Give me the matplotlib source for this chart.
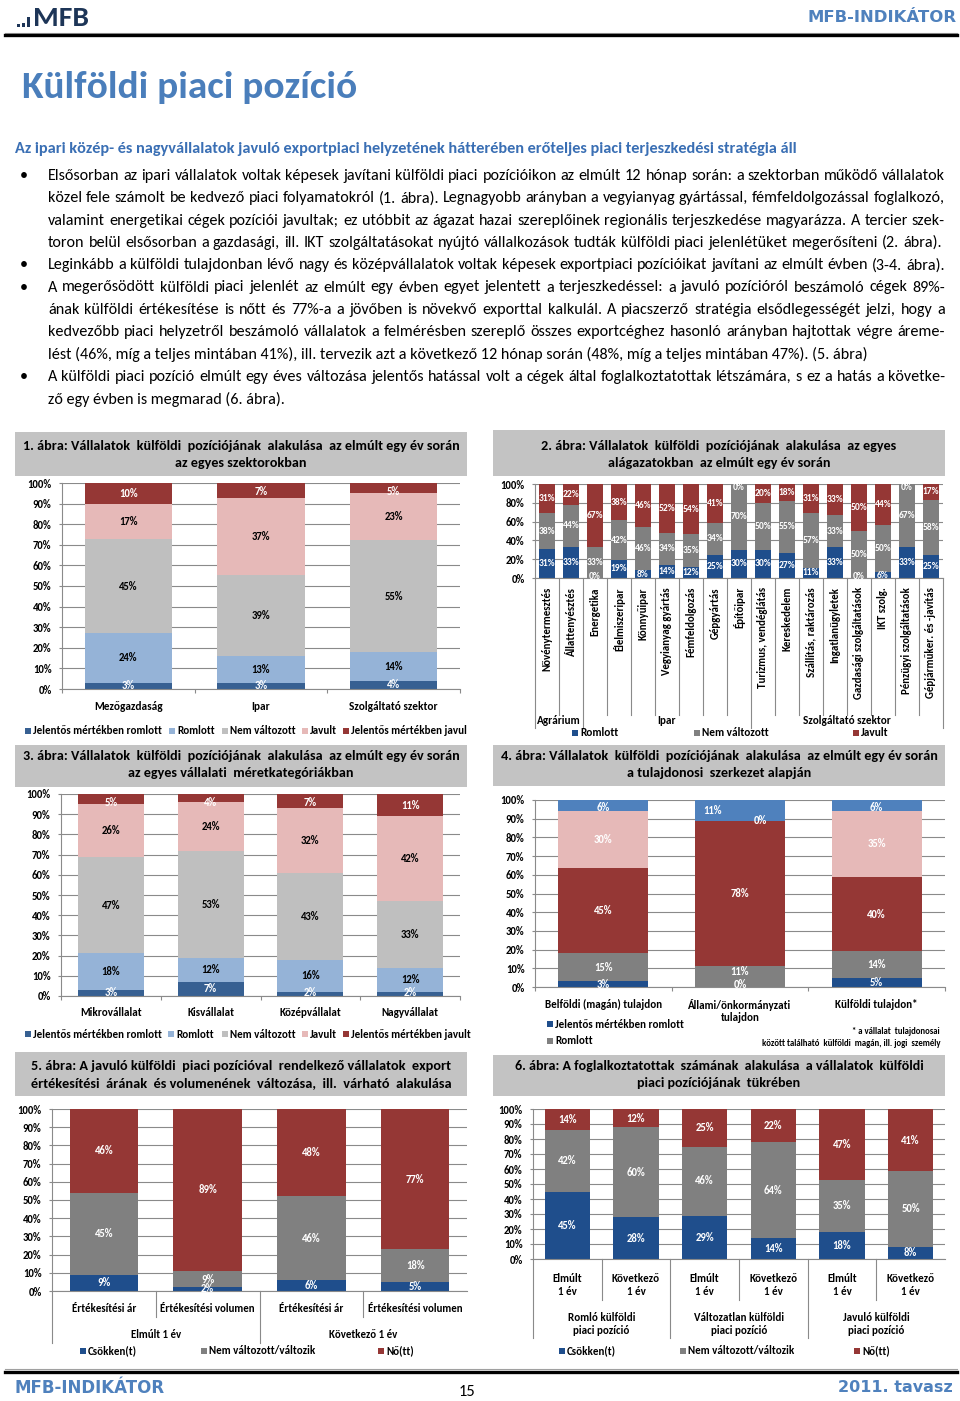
import matplotlib
matplotlib.use('Agg')
import matplotlib.pyplot as plt
from matplotlib import font_manager as fm
from matplotlib.patches import Rectangle
from matplotlib.lines import Line2D
from matplotlib.transforms import Bbox, TransformedBbox
import numpy as np

W, H = 960, 1401


def pick(*names):
    for n in names:
        try:
            fm.findfont(fm.FontProperties(family=n), fallback_to_default=False)
            return n
        except ValueError:
            pass
    return 'DejaVu Sans'


BODY = pick('Carlito', 'Liberation Sans Narrow', 'Lato', 'Open Sans')
HEAD = pick('Verdana', 'DejaVu Sans')
plt.rcParams['font.family'] = [BODY, 'DejaVu Sans']

######################   DATA   ######################

# 1. abra
c1_cats = ['Mezőgazdaság', 'Ipar', 'Szolgáltató szektor']
c1_series = ['Jelentős mértékben romlott', 'Romlott', 'Nem változott', 'Javult', 'Jelentős mértékben javult']
c1_jelentos_romlott = [3, 3, 4]
c1_romlott = [24, 13, 14]
c1_nem_valtozott = [45, 39, 55]
c1_javult = [17, 37, 23]
c1_jelentos_javult = [10, 7, 5]

# 2. abra
c2_cats = ['Növénytermesztés', 'Állattenyésztés', 'Energetika', 'Élelmiszeripar', 'Könnyűipar',
           'Vegyianyag gyártás', 'Fémfeldolgozás', 'Gépgyártás', 'Építőipar',
           'Turizmus, vendéglátás', 'Kereskedelem', 'Szállítás, raktározás', 'Ingatlanügyletek',
           'Gazdasági szolgáltatások', 'IKT szolg.', 'Pénzügyi szolgáltatások', 'Gépjárműker. és -javítás']
c2_groups = ['Agrárium', 'Ipar', 'Szolgáltató szektor']
c2_group_sizes = [2, 7, 8]
c2_series = ['Romlott', 'Nem változott', 'Javult']
c2_romlott = [31, 33, 0, 19, 8, 14, 12, 25, 30, 30, 27, 11, 33, 0, 6, 33, 25]
c2_nem_valtozott = [38, 44, 33, 42, 46, 34, 35, 34, 70, 50, 55, 57, 33, 50, 50, 67, 58]
c2_javult = [31, 22, 67, 38, 46, 52, 54, 41, 0, 20, 18, 31, 33, 50, 44, 0, 17]

# 3. abra
c3_cats = ['Mikrovállalat', 'Kisvállalat', 'Középvállalat', 'Nagyvállalat']
c3_jelentos_romlott = [3, 7, 2, 2]
c3_romlott = [18, 12, 16, 12]
c3_nem_valtozott = [47, 53, 43, 33]
c3_javult = [26, 24, 32, 42]
c3_jelentos_javult = [5, 4, 7, 11]

# 4. abra
c4_cats = ['Belföldi (magán) tulajdon', 'Állami/önkormányzati\ntulajdon', 'Külföldi tulajdon*']
c4_legend = ['Jelentős mértékben romlott', 'Romlott']
c4_jelentos_romlott = [3, 0, 5]
c4_romlott = [15, 11, 14]
c4_nem_valtozott = [45, 78, 40]
c4_javult = [30, 0, 35]
c4_jelentos_javult = [6, 11, 6]
c4_note = ['* a vállalat  tulajdonosai', 'között található  külföldi  magán, ill. jogi  személy']

# 5. abra
c5_cats = ['Értékesítési ár', 'Értékesítési volumen', 'Értékesítési ár', 'Értékesítési volumen']
c5_groups = ['Elmúlt 1 év', 'Következő 1 év']
c5_series = ['Csökken(t)', 'Nem változott/változik', 'Nő(tt)']
c5_csokken = [9, 2, 6, 5]
c5_nem_valtozott = [45, 9, 46, 18]
c5_no = [46, 89, 48, 77]

# 6. abra
c6_cats = ['Elmúlt\n1 év', 'Következő\n1 év'] * 3
c6_groups = ['Romló külföldi\npiaci pozíció', 'Változatlan külföldi\npiaci pozíció', 'Javuló külföldi\npiaci pozíció']
c6_csokken = [45, 28, 29, 14, 18, 8]
c6_nem_valtozott = [42, 60, 46, 64, 35, 50]
c6_no = [14, 12, 25, 22, 47, 41]

subhead = 'Az ipari közép- és nagyvállalatok javuló exportpiaci helyzetének hátterében erőteljes piaci terjeszkedési stratégia áll'
paragraphs = [
    ['Elsősorban az ipari vállalatok voltak képesek javítani külföldi piaci pozícióikon az elmúlt 12 hónap során: a szektorban működő vállalatok',
     'közel fele számolt be kedvező piaci folyamatokról (1. ábra). Legnagyobb arányban a vegyianyag gyártással, fémfeldolgozással foglalkozó,',
     'valamint energetikai cégek pozíciói javultak; ez utóbbit az ágazat hazai szereplőinek regionális terjeszkedése magyarázza. A tercier szek-',
     'toron belül elsősorban a gazdasági, ill. IKT szolgáltatásokat nyújtó vállalkozások tudták külföldi piaci jelenlétüket megerősíteni (2. ábra).'],
    ['Leginkább a külföldi tulajdonban lévő nagy és középvállalatok voltak képesek exportpiaci pozícióikat javítani az elmúlt évben (3-4. ábra).'],
    ['A megerősödött külföldi piaci jelenlét az elmúlt egy évben egyet jelentett a terjeszkedéssel: a javuló pozícióról beszámoló cégek 89%-',
     'ának külföldi értékesítése is nőtt és 77%-a  a jövőben is növekvő exporttal kalkulál. A piacszerző stratégia elsődlegességét jelzi, hogy a',
     'kedvezőbb piaci helyzetről beszámoló vállalatok a felmérésben szereplő összes exportcéghez hasonló arányban hajtottak végre áreme-',
     'lést (46%, míg a teljes mintában 41%), ill. tervezik azt a következő 12 hónap során (48%, míg a teljes mintában 47%). (5. ábra)'],
    ['A külföldi piaci pozíció elmúlt egy éves változása jelentős hatással volt a cégek által foglalkoztatottak létszámára, s ez a hatás a követke-',
     'ző egy évben is megmarad (6. ábra).'],
]

######################   STYLE   ######################

DBLUE1 = '#376092'
LBLUE = '#95b3d7'
LGRAY = '#bfbfbf'
PINK = '#e6b9b8'
DRED = '#953735'
NAVY = '#1f4e8c'
MGRAY = '#808080'
SBLUE = '#4f81bd'
BOX = '#c3c3c3'
GRID = '#8a8a8a'
PAGEBLUE = '#4f81bd'

fig = plt.figure(figsize=(W / 100, H / 100), dpi=100)
fig.patch.set_facecolor('white')
renderer = fig.canvas.get_renderer()


def measure(s, size, weight='normal', family=BODY):
    t = fig.text(0, 0, s, fontsize=size, fontweight=weight, family=family)
    w = t.get_window_extent(renderer).width
    t.remove()
    return w


def fit(s, width, weight='bold', family=BODY):
    return 10.0 * width / measure(s, 10, weight, family)


def ftext(x, y, s, size, **kw):
    kw.setdefault('family', BODY)
    kw.setdefault('va', 'center')
    return fig.text(x / W, 1 - y / H, s, fontsize=size, **kw)


def frect(x, y, w, h, color):
    fig.add_artist(Rectangle((x / W, 1 - (y + h) / H), w / W, h / H,
                             transform=fig.transFigure, facecolor=color, edgecolor='none'))


def fline(x0, x1, y, lw, color):
    fig.add_artist(Line2D([x0 / W, x1 / W], [1 - y / H, 1 - y / H], transform=fig.transFigure,
                          color=color, lw=lw))


def justify(x, y, line, right, size):
    words = line.split()
    ws = [measure(w, size) for w in words]
    gap = (right - x - sum(ws)) / (len(words) - 1)
    cx = x
    for w, wd in zip(words, ws):
        ftext(cx, y, w, size, ha='left')
        cx += wd + gap


def chart_title(x0, x1, y0, y1, lines, ys, width):
    frect(x0, y0, x1 - x0, y1 - y0, BOX)
    size = fit(lines[0], width)
    for s, y in zip(lines, ys):
        ftext((x0 + x1) / 2, y, s, size, ha='center', fontweight='bold')


def legend(items, y, size, clip_right=None):
    for sx, label, color in items:
        frect(sx, y - 3, 6, 6, color)
        t = ftext(sx + 8, y, label, size, ha='left', fontweight='bold')
        if clip_right is not None:
            t.set_clip_on(True)
            t.set_clip_box(TransformedBbox(Bbox([[0, 0], [clip_right / W, 1]]), fig.transFigure))


def below(rect, py):
    x0, y0, x1, y1 = rect
    return (y1 - py) / (y1 - y0)


def stacked(rect, series, colors, lcolors, yticks, lsize, ysize, xticks_out=True, nudges=None):
    x0, y0, x1, y1 = rect
    ax = fig.add_axes([x0 / W, 1 - y1 / H, (x1 - x0) / W, (y1 - y0) / H])
    vals = np.array(series, float)
    pct = vals / vals.sum(axis=0) * 100
    n = vals.shape[1]
    xs = np.arange(n)
    bottom = np.zeros(n)
    for i in range(len(vals)):
        ax.bar(xs, pct[i], 0.66, bottom=bottom, color=colors[i], linewidth=0, zorder=2)
        for j in range(n):
            yc = min(max(bottom[j] + pct[i][j] / 2, 1.5), 96)
            dx, dy = nudges.get((i, j), (0, 0)) if nudges else (0, 0)
            ax.text(xs[j] + dx, yc + dy, '%d%%' % vals[i][j], ha='center', va='center', color=lcolors[i],
                    fontsize=lsize, fontweight='bold', zorder=3)
        bottom += pct[i]
    ax.set_xlim(-0.5, n - 0.5)
    ax.set_ylim(0, 100)
    ax.set_yticks(yticks)
    ax.set_yticklabels(['%d%%' % v for v in yticks], fontsize=ysize, fontweight='bold')
    ax.set_axisbelow(True)
    ax.yaxis.grid(True, color=GRID, lw=0.8)
    for s in ['top', 'right']:
        ax.spines[s].set_visible(False)
    for s in ['left', 'bottom']:
        ax.spines[s].set_color(GRID)
        ax.spines[s].set_linewidth(0.8)
    ax.tick_params(axis='y', length=2.5, color=GRID, pad=5)
    if xticks_out:
        ax.set_xticks(np.arange(n + 1) - 0.5)
        ax.tick_params(axis='x', length=3, color=GRID, labelbottom=False)
    else:
        ax.set_xticks([])
    ax.patch.set_alpha(0)
    return ax


def sep(ax, rect, x, py):
    ax.add_line(Line2D([x, x], [0, below(rect, py)], transform=ax.get_xaxis_transform(),
                       color=GRID, lw=0.8, clip_on=False))


def catlabel(ax, rect, x, py, s, size):
    ax.text(x, below(rect, py), s, transform=ax.get_xaxis_transform(), ha='center', va='center',
            fontsize=size, fontweight='bold', linespacing=1.15)


######################   PAGE   ######################

# header
for bx, bh in [(17, 3), (22, 4), (27, 10)]:
    frect(bx, 27 - bh, 3, bh, '#1d3557')
ftext(33, 18, 'MFB', fit('MFB', 56, family=BODY), ha='left', fontweight='bold', color='#1d3557')
ftext(957, 17, 'MFB-INDIKÁTOR', fit('MFB-INDIKÁTOR', 149, family=HEAD), ha='right',
      fontweight='bold', color=PAGEBLUE, family=HEAD)
fline(5, 957, 32.5, 0.8, '#a0a0a0')
fline(5, 957, 35, 2.4, 'black')

ftext(22, 87, 'Külföldi piaci pozíció', fit('Külföldi piaci pozíció', 337), ha='left',
      fontweight='bold', color='#4a7ebb')
ftext(15, 149, subhead, fit(subhead, 783), ha='left', fontweight='bold', color='#3a6fb4')

# body text
full = [l for p in paragraphs for l in p[:-1]]
bsize = min(10.0 * 897 / measure(l, 10) for l in full)
k = 0
for p in paragraphs:
    for li, line in enumerate(p):
        y = 176 + 22.3 * k
        if li == 0:
            ftext(20, y, '•', bsize, ha='left')
        last = li == len(p) - 1
        if not last:
            justify(48, y, line, 945, bsize)
        elif line.startswith('toron'):
            justify(48, y, line, 942, bsize)
        elif line.startswith('Leginkább'):
            justify(48, y, line, 945, bsize)
        else:
            ftext(48, y, line, bsize, ha='left')
        k += 1

# footer
fline(5, 957, 1369, 0.8, '#a0a0a0')
fline(5, 957, 1372, 2.4, 'black')
ftext(15, 1388, 'MFB-INDIKÁTOR', fit('MFB-INDIKÁTOR', 150, family=HEAD), ha='left',
      fontweight='bold', color=PAGEBLUE, family=HEAD)
ftext(953, 1388, '2011. tavasz', fit('2011. tavasz', 115, family=HEAD), ha='right',
      fontweight='bold', color=PAGEBLUE, family=HEAD)
ftext(467, 1392, '15', fit('15', 17, weight='normal'), ha='center')

lab_size = fit('45%', 19)
lab_size2 = fit('31%', 16.5)
ytick_size = fit('100%', 24)
leg_size = fit('Jelentős mértékben romlott', 128)

# 1. abra
r1 = (62, 483, 460, 689)
chart_title(15, 467, 432, 476,
            ['1. ábra: Vállalatok  külföldi  pozíciójának  alakulása  az elmúlt egy év során',
             'az egyes szektorokban'], [446, 463], 434)
ax1 = stacked(r1, [c1_jelentos_romlott, c1_romlott, c1_nem_valtozott, c1_javult, c1_jelentos_javult],
              [DBLUE1, LBLUE, LGRAY, PINK, DRED], ['white', 'black', 'black', 'black', 'white'],
              range(0, 101, 10), lab_size, ytick_size)
csize = fit('Szolgáltató szektor', 88)
for j, c in enumerate(c1_cats):
    catlabel(ax1, r1, j, 707, c, csize)
legend(zip([25, 169, 222, 302, 343], c1_series, [DBLUE1, LBLUE, LGRAY, PINK, DRED]), 731, leg_size,
       clip_right=467)

# 2. abra
r2 = (535, 484, 943, 578)
chart_title(493, 945, 430, 476,
            ['2. ábra: Vállalatok  külföldi  pozíciójának  alakulása  az egyes',
             'alágazatokban  az elmúlt egy év során'], [446, 463], 352)
ax2 = stacked(r2, [c2_romlott, c2_nem_valtozott, c2_javult], [NAVY, MGRAY, DRED],
              ['white', 'white', 'white'], range(0, 101, 20), lab_size2, ytick_size, xticks_out=False)
rsize = fit('Gépjárműker. és -javítás', 110)
for j, c in enumerate(c2_cats):
    ax2.text(j, below(r2, 587), c, transform=ax2.get_xaxis_transform(), rotation=90, ha='center',
             va='top', fontsize=rsize, fontweight='bold')
edges = np.cumsum([0] + c2_group_sizes) - 0.5
for j in range(len(c2_cats) + 1):
    sep(ax2, r2, j - 0.5, 728 if (j - 0.5) in edges else 715)
gsize = fit('Szolgáltató szektor', 87)
for g, a, b in zip(c2_groups, edges[:-1], edges[1:]):
    catlabel(ax2, r2, (a + b) / 2, 720, g, gsize)
legend(zip([572, 694, 853], c2_series, [NAVY, MGRAY, DRED]), 733, fit('Romlott', 38))

# 3. abra
r3 = (61, 794, 460, 996)
chart_title(15, 467, 745, 787,
            ['3. ábra: Vállalatok  külföldi  pozíciójának  alakulása  az elmúlt egy év során',
             'az egyes vállalati  méretkategóriákban'], [756, 773], 433)
ax3 = stacked(r3, [c3_jelentos_romlott, c3_romlott, c3_nem_valtozott, c3_javult, c3_jelentos_javult],
              [DBLUE1, LBLUE, LGRAY, PINK, DRED], ['white', 'black', 'black', 'black', 'white'],
              range(0, 101, 10), lab_size, ytick_size)
csize3 = fit('Mikrovállalat', 61)
for j, c in enumerate(c3_cats):
    catlabel(ax3, r3, j, 1013, c, csize3)
legend(zip([25, 168, 222, 302, 343], c1_series, [DBLUE1, LBLUE, LGRAY, PINK, DRED]), 1034, leg_size)

# 4. abra
r4 = (535, 800, 945, 987)
chart_title(493, 945, 745, 786,
            ['4. ábra: Vállalatok  külföldi  pozíciójának  alakulása  az elmúlt egy év során',
             'a tulajdonosi  szerkezet alapján'], [756, 773], 434)
ax4 = stacked(r4, [c4_jelentos_romlott, c4_romlott, c4_nem_valtozott, c4_javult, c4_jelentos_javult],
              [NAVY, MGRAY, DRED, PINK, SBLUE], ['white'] * 5, range(0, 101, 10), lab_size, ytick_size,
              nudges={(3, 1): (0.15, 0), (4, 1): (-0.2, 0), (1, 1): (0, 3)})
csize4 = fit('Belföldi (magán) tulajdon', 117)
for j, c in enumerate(c4_cats):
    catlabel(ax4, r4, j, 1011 if '\n' in c else 1004, c, csize4)
legend(zip([547], c4_legend[:1], [NAVY]), 1024, leg_size)
legend(zip([547], c4_legend[1:], [MGRAY]), 1041, leg_size)
nsize = fit(c4_note[1], 181)
ftext(940, 1032, c4_note[0], nsize, ha='right', fontweight='bold')
ftext(940, 1043, c4_note[1], nsize, ha='right', fontweight='bold')

# 5. abra
r5 = (52, 1109, 467, 1291)
chart_title(15, 467, 1052, 1096,
            ['5. ábra: A javuló külföldi  piaci pozícióval  rendelkező vállalatok  export',
             'értékesítési  árának  és volumenének  változása,  ill.  várható  alakulása'], [1066, 1083], 418)
ax5 = stacked(r5, [c5_csokken, c5_nem_valtozott, c5_no], [NAVY, MGRAY, DRED], ['white'] * 3,
              range(0, 101, 10), lab_size, ytick_size, xticks_out=False)
csize5 = fit('Értékesítési volumen', 95)
for j, c in enumerate(c5_cats):
    catlabel(ax5, r5, j, 1308, c, csize5)
for x in [0.5, 2.5]:
    sep(ax5, r5, x, 1317)
for x in [-0.5, 1.5]:
    sep(ax5, r5, x, 1343)
for g, x in zip(c5_groups, [0.5, 2.5]):
    catlabel(ax5, r5, x, 1334, g, csize5)
legend(zip([80, 201, 378], c5_series, [NAVY, MGRAY, DRED]), 1351, fit('Nem változott/változik', 105))

# 6. abra
r6 = (533, 1109, 945, 1259)
chart_title(493, 945, 1055, 1096,
            ['6. ábra: A foglalkoztatottak  számának  alakulása  a vállalatok  külföldi',
             'piaci pozíciójának  tükrében'], [1066, 1083], 407)
ax6 = stacked(r6, [c6_csokken, c6_nem_valtozott, c6_no], [NAVY, MGRAY, DRED], ['white'] * 3,
              range(0, 101, 10), lab_size, ytick_size, xticks_out=False)
csize6 = fit('Változatlan külföldi', 89)
for j, c in enumerate(c6_cats):
    catlabel(ax6, r6, j, 1285, c, csize6)
for x in [0.5, 2.5, 4.5]:
    sep(ax6, r6, x, 1300)
for x in [-0.5, 1.5, 3.5]:
    sep(ax6, r6, x, 1338)
for g, x in zip(c6_groups, [0.5, 2.5, 4.5]):
    catlabel(ax6, r6, x, 1324, g, csize6)
legend(zip([559, 680, 854], c5_series, [NAVY, MGRAY, DRED]), 1351, fit('Nem változott/változik', 106))

fig.savefig('out.png', dpi=100)
